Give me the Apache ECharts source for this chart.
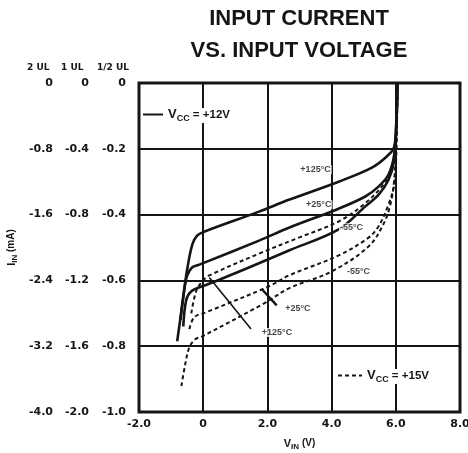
<!DOCTYPE html>
<html><head><meta charset="utf-8">
<script src="https://cdn.jsdelivr.net/npm/echarts@6/dist/echarts.min.js"></script>
<style>html,body{margin:0;padding:0;background:#fff}#c{width:468px;height:453px}</style>
</head><body><div id="c"></div>
<script>
// ---- tick labels ----
const xTickLabels = ['-2.0', '0', '2.0', '4.0', '6.0', '8.0'];
const yTicksHalfUL = ['-1.0', '-0.8', '-0.6', '-0.4', '-0.2', '0'];
const yTicks1UL = ['-2.0', '-1.6', '-1.2', '-0.8', '-0.4', '0'];
const yTicks2UL = ['-4.0', '-3.2', '-2.4', '-1.6', '-0.8', '0'];
const yHeaders = ['1/2 UL', '1 UL', '2 UL'];

// ---- series values [V_IN (V), I_IN (mA, 1/2 UL scale)] ----
// VCC = +12V (solid)
const solid125 = [[-0.81,-0.785],[-0.65,-0.673],[-0.50,-0.567],[-0.34,-0.491],[-0.19,-0.464],[0.03,-0.452],[1.74,-0.391],[2.67,-0.355],[4.22,-0.30],[5.24,-0.258],[5.71,-0.224],[5.95,-0.194],[6.02,-0.11],[6.05,0]];
const solid25 = [[-0.71,-0.72],[-0.59,-0.627],[-0.50,-0.585],[-0.34,-0.56],[-0.12,-0.552],[1.74,-0.479],[2.67,-0.44],[4.22,-0.382],[5.05,-0.345],[5.46,-0.315],[5.77,-0.279],[5.95,-0.218],[6.02,-0.11],[6.05,0]];
const solidM55 = [[-0.62,-0.74],[-0.53,-0.66],[-0.37,-0.633],[-0.03,-0.618],[0.50,-0.598],[2.05,-0.535],[2.67,-0.509],[4.22,-0.445],[5.05,-0.375],[5.46,-0.34],[5.77,-0.295],[5.95,-0.235],[6.02,-0.12],[6.05,0]];
// VCC = +15V (dashed)
const dashed125 = [[-0.37,-0.70],[-0.22,-0.633],[-0.03,-0.603],[0.19,-0.585],[1.83,-0.515],[2.98,-0.47],[4.22,-0.421],[4.99,-0.37],[5.61,-0.309],[5.92,-0.248],[6.02,-0.142],[6.05,0]];
const dashed25 = [[-0.43,-0.748],[-0.28,-0.712],[0.09,-0.697],[2.05,-0.618],[2.67,-0.585],[4.22,-0.524],[5.15,-0.47],[5.46,-0.436],[5.77,-0.37],[5.95,-0.309],[6.02,-0.203],[6.05,0]];
const dashedM55 = [[-0.68,-0.921],[-0.56,-0.855],[-0.43,-0.803],[-0.25,-0.779],[-0.03,-0.77],[1.95,-0.667],[2.67,-0.624],[4.0,-0.573],[5.15,-0.497],[5.61,-0.43],[5.83,-0.37],[5.95,-0.294],[6.02,-0.173],[6.05,0]];

// ---- annotations ----
const tempLabels = [
  [3.5, -0.264, '+125°C'],
  [3.6, -0.37, '+25°C'],
  [4.62, -0.44, '-55°C'],
  [4.84, -0.573, '-55°C'],
  [2.95, -0.685, '+25°C'],
  [2.3, -0.758, '+125°C']
];
const leader125 = [[0.19, -0.591], [1.49, -0.748]];
const leader25 = [[1.83, -0.627], [2.29, -0.676]];

const NAME12 = 'VCC = +12V';
const NAME15 = 'VCC = +15V';

const FONT = 'DejaVu Sans';
const FONT2 = 'Liberation Sans';
const INK = '#151515';

function fromList(list, min, step) {
  return v => list[Math.round((v - min) / step)] ?? '';
}

function curve(name, data, dashed) {
  return {
    type: 'line', name, data, showSymbol: false, symbol: 'none', smooth: 0.35,
    lineStyle: { color: INK, width: dashed ? 2 : 2.6, type: dashed ? [4, 3] : 'solid' },
    itemStyle: { color: INK }, z: 5, silent: true
  };
}
function leader(data, w) {
  return { type: 'line', name: 'leader', data, showSymbol: false, symbol: 'none',
    lineStyle: { color: INK, width: w }, z: 4, silent: true };
}

const rich = {
  v: { fontSize: 11, fontWeight: 'bold', fontFamily: FONT2, color: INK },
  s: { fontSize: 8, fontWeight: 'bold', fontFamily: FONT2, color: INK, padding: [7, 0, 0, 0] },
  t: { fontSize: 10, fontWeight: 'bold', fontFamily: FONT2, color: INK }
};
const richLegend = {
  v: { fontSize: 13, fontWeight: 'bold', fontFamily: FONT2, color: INK },
  s: { fontSize: 9, fontWeight: 'bold', fontFamily: FONT2, color: INK, padding: [8, 0, 0, 0] },
  t: { fontSize: 11.5, fontWeight: 'bold', fontFamily: FONT2, color: INK }
};
const legendFmt = n => '{v|V}{s|CC}{t|' + n.slice(3) + '}';

const tickLabel = { color: INK, fontSize: 11, fontWeight: 'bold', fontFamily: FONT };

const yAxisBase = (min, step, labels, offset) => ({
  type: 'value', min, max: 0, interval: step, position: 'left', offset,
  axisLine: { show: false }, axisTick: { show: false },
  splitLine: { show: false },
  axisLabel: Object.assign({ formatter: fromList(labels, min, step), margin: 13 }, tickLabel)
});

const chart = echarts.init(document.getElementById('c'));
chart.setOption({
  backgroundColor: '#fff',
  animation: false,
  title: {
    text: 'INPUT CURRENT\nVS. INPUT VOLTAGE',
    left: 294, top: -2, textAlign: 'center',
    textStyle: { fontSize: 22, fontWeight: 'bold', fontFamily: FONT2, color: INK, lineHeight: 32 }
  },
  grid: { left: 139, top: 83, right: 8, bottom: 41, show: true, borderColor: INK, borderWidth: 3,
    backgroundColor: 'transparent', outerBoundsMode: 'none', containLabel: false },
  legend: [
    { data: [NAME12], left: 142, top: 108, padding: 0, itemWidth: 20, itemHeight: 12, itemGap: 2,
      itemStyle: { opacity: 0 }, backgroundColor: '#fff',
      formatter: legendFmt, textStyle: { rich: richLegend }, selectedMode: false },
    { data: [NAME15], left: 337, top: 369, padding: 0, itemWidth: 24, itemHeight: 12, itemGap: 2,
      itemStyle: { opacity: 0 }, backgroundColor: '#fff',
      formatter: legendFmt, textStyle: { rich: richLegend }, selectedMode: false }
  ],
  graphic: [
    { type: 'text', left: 97, top: 63, silent: true, style: { text: yHeaders[0], font: 'bold 9px "DejaVu Sans"', fill: INK } },
    { type: 'text', left: 61, top: 63, silent: true, style: { text: yHeaders[1], font: 'bold 9px "DejaVu Sans"', fill: INK } },
    { type: 'text', left: 27, top: 63, silent: true, style: { text: yHeaders[2], font: 'bold 9px "DejaVu Sans"', fill: INK } }
  ],
  xAxis: {
    type: 'value', min: -2, max: 8, interval: 2,
    axisLine: { show: false }, axisTick: { show: false },
    splitLine: { show: true, lineStyle: { color: INK, width: 2 } },
    axisLabel: Object.assign({ formatter: fromList(xTickLabels, -2, 2), margin: 7 }, tickLabel),
    name: '{v|V}{s|IN}{t| (V)}', nameLocation: 'middle', nameGap: 24,
    nameTextStyle: { rich }
  },
  yAxis: [
    Object.assign(yAxisBase(-1, 0.2, yTicksHalfUL, 0), {
      splitLine: { show: true, lineStyle: { color: INK, width: 2 } }
    }),
    yAxisBase(-2, 0.4, yTicks1UL, 37),
    yAxisBase(-4, 0.8, yTicks2UL, 73),
    {
      type: 'value', min: -1, max: 0, position: 'left', offset: 0,
      axisLine: { show: false }, axisTick: { show: false }, axisLabel: { show: false }, splitLine: { show: false },
      name: '{v|I}{s|IN}{t| (mA)}', nameLocation: 'middle', nameGap: 120, nameRotate: 90,
      nameTextStyle: { rich }
    }
  ],
  series: [
    curve(NAME12, solid125, false),
    curve(NAME12, solid25, false),
    curve(NAME12, solidM55, false),
    curve(NAME15, dashed125, true),
    curve(NAME15, dashed25, true),
    curve(NAME15, dashedM55, true),
    leader(leader125, 1.6),
    leader(leader25, 2.4),
    {
      type: 'scatter', name: 'labels', data: tempLabels, symbolSize: 0, silent: true, z: 6,
      label: { show: true, position: 'inside', formatter: p => p.data[2], color: INK,
        fontSize: 9, fontWeight: 'bold', fontFamily: FONT2, backgroundColor: '#fff', padding: [0, 1] }
    }
  ]
});
</script>
</body></html>
